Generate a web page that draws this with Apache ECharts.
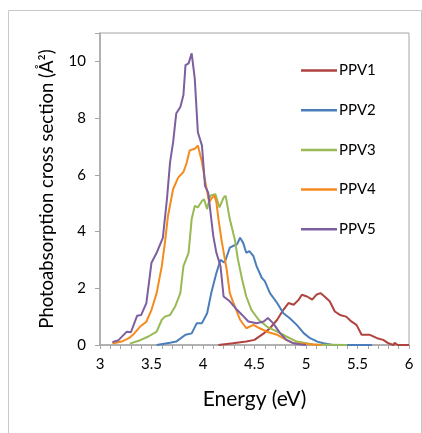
<!DOCTYPE html>
<html>
<head>
<meta charset="utf-8">
<script src="https://cdn.jsdelivr.net/npm/echarts@6/dist/echarts.min.js"></script>
<style>
  html, body { margin: 0; padding: 0; background: #fff; }
  #chart { width: 422px; height: 433px; }
</style>
</head>
<body>
<div id="chart"></div>
<script>
// [energy (eV), cross section (Å²)]
var ppv1 = [[4.15,0],[4.29,0.06],[4.42,0.12],[4.50,0.18],[4.59,0.41],[4.65,0.59],[4.72,0.89],[4.78,1.24],[4.83,1.48],[4.88,1.42],[4.93,1.6],[4.96,1.77],[5.01,1.71],[5.06,1.6],[5.10,1.77],[5.14,1.83],[5.18,1.71],[5.23,1.54],[5.28,1.18],[5.33,1.06],[5.39,1.0],[5.44,0.83],[5.49,0.71],[5.54,0.36],[5.62,0.36],[5.69,0.24],[5.75,0.18],[5.80,0.06],[5.85,0],[5.86,0.08],[5.89,0],[6.0,0]];
var ppv2 = [[3.55,0],[3.68,0.08],[3.74,0.12],[3.83,0.36],[3.89,0.41],[3.94,0.77],[3.99,0.77],[4.04,1.12],[4.08,1.83],[4.13,2.54],[4.17,3.0],[4.21,2.9],[4.26,3.43],[4.29,3.49],[4.33,3.55],[4.36,3.78],[4.39,3.6],[4.42,3.25],[4.45,3.31],[4.49,3.13],[4.52,2.78],[4.57,2.37],[4.60,2.25],[4.65,1.83],[4.72,1.48],[4.78,1.12],[4.84,0.95],[4.91,0.71],[4.98,0.41],[5.04,0.24],[5.11,0.12],[5.17,0.06],[5.26,0],[5.64,0]];
var ppv3 = [[3.29,0.05],[3.39,0.17],[3.47,0.3],[3.55,0.47],[3.60,0.89],[3.63,1.0],[3.68,1.06],[3.73,1.36],[3.78,1.83],[3.81,2.78],[3.86,3.25],[3.89,4.44],[3.92,4.9],[3.95,4.85],[3.99,5.08],[4.01,5.14],[4.04,4.79],[4.07,5.26],[4.12,5.32],[4.16,4.85],[4.20,5.2],[4.22,5.26],[4.26,4.44],[4.31,3.7],[4.34,3.0],[4.38,2.31],[4.42,1.71],[4.47,1.24],[4.54,0.89],[4.62,0.65],[4.72,0.47],[4.81,0.3],[4.91,0.12],[5.07,0.02],[5.40,0]];
var ppv4 = [[3.12,0.05],[3.21,0.12],[3.28,0.24],[3.32,0.36],[3.39,0.65],[3.45,0.82],[3.50,1.24],[3.55,1.83],[3.60,2.78],[3.63,3.6],[3.66,4.55],[3.71,5.5],[3.76,5.91],[3.81,6.1],[3.84,6.4],[3.87,6.86],[3.92,6.92],[3.95,7.03],[3.99,6.45],[4.02,5.8],[4.06,5.03],[4.08,5.15],[4.11,5.27],[4.13,5.03],[4.15,4.44],[4.18,3.7],[4.23,2.66],[4.26,1.83],[4.29,1.54],[4.36,0.89],[4.42,0.59],[4.49,0.71],[4.55,0.59],[4.62,0.47],[4.72,0.36],[4.81,0.18],[4.88,0.06],[5.15,0]];
var ppv5 = [[3.12,0.1],[3.18,0.17],[3.26,0.47],[3.30,0.45],[3.36,1.03],[3.40,1.06],[3.45,1.48],[3.50,2.9],[3.55,3.25],[3.61,3.78],[3.65,5.14],[3.68,6.44],[3.71,7.15],[3.74,8.16],[3.78,8.39],[3.81,8.81],[3.83,9.87],[3.86,9.93],[3.89,10.28],[3.92,9.4],[3.95,7.5],[3.99,7.03],[4.02,5.6],[4.05,5.38],[4.10,3.84],[4.13,3.25],[4.17,2.78],[4.20,1.71],[4.26,1.54],[4.33,1.24],[4.38,1.06],[4.44,0.83],[4.52,0.77],[4.59,0.83],[4.63,0.95],[4.68,0.77],[4.75,0.41],[4.81,0.18],[4.88,0.06],[4.95,0.02],[5.0,0]];

var seriesNames = ['PPV1', 'PPV2', 'PPV3', 'PPV4', 'PPV5'];
var seriesData = [ppv1, ppv2, ppv3, ppv4, ppv5];
var colors = ['#b0433f', '#4a7ebb', '#98b954', '#f58a1f', '#7d5fa0'];

var font = 'Lato, "Noto Sans", sans-serif';
var myChart = echarts.init(document.getElementById('chart'));

var series = [];
for (var i = 0; i < seriesNames.length; i++) {
  series.push({
    name: seriesNames[i],
    type: 'line',
    symbol: 'none',
    data: seriesData[i],
    lineStyle: { width: 2, color: colors[i] },
    itemStyle: { color: colors[i] }
  });
}

var option = {
  animation: false,
  textStyle: { fontFamily: font },
  graphic: [{
    type: 'rect',
    shape: { x: 8.5, y: 10.5, width: 413, height: 440 },
    style: { fill: 'none', stroke: '#c8c8c8', lineWidth: 1 },
    silent: true
  }],
  grid: {
    left: 100, right: 13, top: 33, bottom: 88,
    show: true, borderColor: '#a6a6a6', borderWidth: 1
  },
  legend: {
    orient: 'vertical',
    left: 296, top: 58,
    icon: 'rect',
    itemWidth: 36, itemHeight: 2.5, itemGap: 24.7,
    data: seriesNames,
    textStyle: { fontFamily: font, fontSize: 15, color: '#000', lineHeight: 14, padding: [0, 0, 0, -3] }
  },
  xAxis: {
    type: 'value', min: 3, max: 6, interval: 0.5,
    name: 'Energy (eV)', nameLocation: 'middle', nameGap: 44,
    nameTextStyle: { fontFamily: font, fontSize: 21, color: '#000' },
    axisLine: { lineStyle: { color: '#a6a6a6', width: 1.5 } },
    axisTick: { show: true, length: 4, lineStyle: { color: '#a6a6a6' } },
    minorTick: { show: true, splitNumber: 5, length: 4, lineStyle: { color: '#a6a6a6' } },
    axisLabel: { fontSize: 15, color: '#000', margin: 12 },
    splitLine: { show: false }
  },
  yAxis: {
    type: 'value', min: 0, max: 11, interval: 2,
    name: 'Photoabsorption cross section (Å²)', nameLocation: 'middle', nameGap: 43,
    nameTextStyle: { fontFamily: font, fontSize: 18.5, color: '#000' },
    axisLine: { show: true, lineStyle: { color: '#a6a6a6', width: 1.5 } },
    axisTick: { show: true, length: 5, lineStyle: { color: '#a6a6a6' } },
    axisLabel: {
      fontSize: 15, color: '#000', margin: 14,
      formatter: function (v) { return v % 2 === 0 ? v : ''; }
    },
    splitLine: { show: false }
  },
  series: series
};

myChart.setOption(option);
</script>
</body>
</html>
